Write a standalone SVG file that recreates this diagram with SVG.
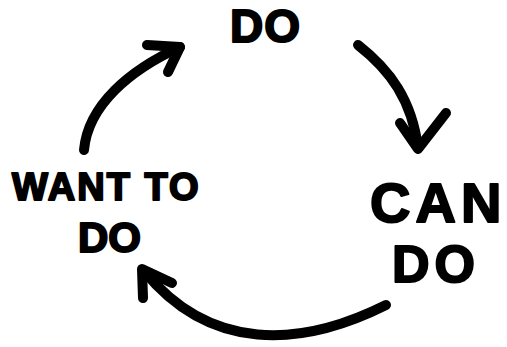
<svg xmlns="http://www.w3.org/2000/svg" width="507" height="347" viewBox="0 0 507 347">
<style>
.lbl{font-family:"Liberation Sans",Arial,sans-serif;font-weight:bold;fill:#000;stroke:#000;stroke-width:2;stroke-linejoin:round}
.arr{fill:none;stroke:#000;stroke-width:10;stroke-linecap:round;stroke-linejoin:round}
</style>
<rect width="507" height="347" fill="#fff"/>
<g id="node-do">
<text class="lbl" x="230" y="42" font-size="46" letter-spacing="1">DO</text>
</g>
<g id="node-cando">
<text class="lbl" x="370" y="222" font-size="56" letter-spacing="5">CAN</text>
<text class="lbl" x="392" y="282" font-size="52" letter-spacing="5">DO</text>
</g>
<g id="node-wanttodo">
<text class="lbl" x="12" y="200" font-size="38" letter-spacing="2">WANT TO</text>
<text class="lbl" x="78" y="252" font-size="42">DO</text>
</g>
<g id="connectors">
<path class="arr" d="M84,150 C88,105 130,70 180,47"/>
<path class="arr" d="M147,45 L180,47 L168,72"/>
<path class="arr" d="M358,45 C390,70 412,100 418,148"/>
<path class="arr" d="M400,123 L418,149 L446,113"/>
<path class="arr" d="M386,305 C300,348 210,352 144,271"/>
<path class="arr" d="M143,298 L142,269 L172,283"/>
</g>
</svg>
